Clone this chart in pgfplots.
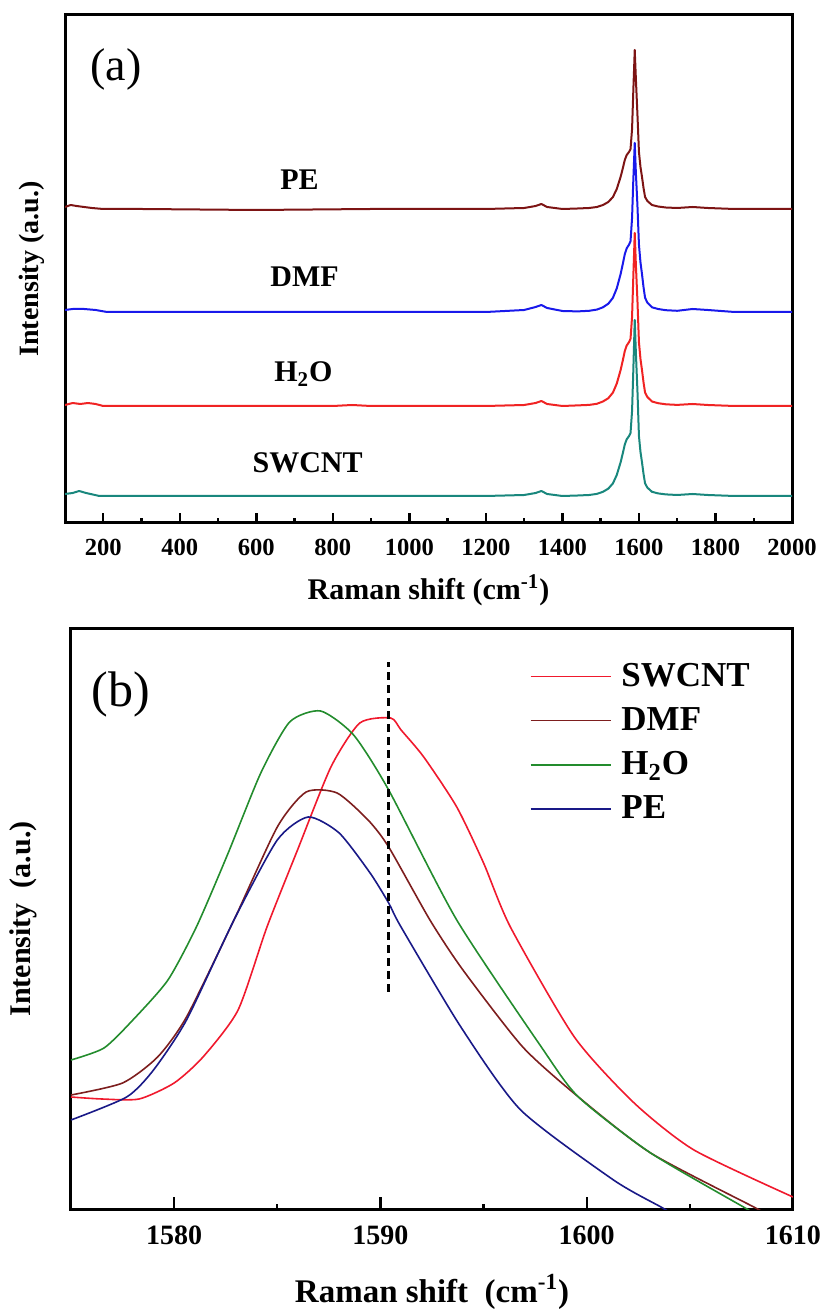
\documentclass[border=0pt]{standalone}
\usepackage{fontspec}
\setmainfont{Liberation Serif}
\usepackage{pgfplots}
\pgfplotsset{compat=1.18}

\definecolor{peA}{RGB}{125,20,20}
\definecolor{dmfA}{RGB}{25,25,235}
\definecolor{hA}{RGB}{240,35,35}
\definecolor{swA}{RGB}{25,135,125}
\definecolor{swB}{RGB}{240,25,45}
\definecolor{dmfB}{RGB}{125,30,30}
\definecolor{hB}{RGB}{35,140,45}
\definecolor{peB}{RGB}{25,25,135}

\pgfplotsset{
  common/.style={
    scale only axis,
    axis line style={line width=1.5pt},
    ytick=\empty, xtick pos=bottom,
    tick align=inside, minor x tick num=1,
    tick style={line width=1.2pt, black},
    minor tick length=2.5pt,
    /pgf/number format/assume math mode=true,
    /pgf/number format/set thousands separator={},
    every axis plot/.append style={line join=round},
    ylabel style={anchor=center},
    xlabel style={anchor=center},
  }
}

\begin{document}
\begin{tikzpicture}
\path[use as bounding box] (0,0) rectangle (413.5pt,656.5pt);

% (a) full spectra
\begin{axis}[common,
  at={(32.5pt,395pt)}, anchor=south west,
  width=363.5pt, height=254pt,
  xmin=100, xmax=2000, ymin=0, ymax=508,
  xtick={200,400,...,2000}, major tick length=5pt,
  xticklabel style={font=\fontsize{12.3}{14}\selectfont\bfseries, anchor=center, yshift=-12pt},
  xlabel={Raman shift (cm\textsuperscript{-1})},
  xlabel style={font=\fontsize{15}{18}\selectfont\bfseries, at={(axis description cs:0.5,-0.132)}},
  ylabel={Intensity (a.u.)},
  ylabel style={font=\fontsize{14}{17}\selectfont\bfseries, at={(axis description cs:-0.045,0.5)}},
]
\addplot[color=peA, line width=1pt] coordinates {
(100,316) (115,318) (130,317) (150,316) (170,315) (200,314) (300,314) (600,313) (900,314) (1200,314)
(1300,315) (1330,317) (1345,319) (1360,316) (1400,314) (1440,314.5) (1470,315) (1490,316)
(1506,318) (1520,321) (1532,326) (1542,334) (1552,346) (1558,355) (1563,363) (1568,368) (1574,371)
(1578,374) (1582,394) (1585,429) (1589,473) (1592,444) (1596,409) (1600,371) (1604,356) (1608,346)
(1612,335) (1616,326) (1622,322) (1634,318) (1650,316.5) (1670,315.5) (1700,315)
(1740,316) (1780,315) (1850,314) (2000,314)};
\addplot[color=dmfA, line width=1pt] coordinates {
(100,213) (120,214) (150,214) (180,213) (210,211) (400,211) (800,211) (1200,211)
(1300,213) (1330,216) (1345,218) (1360,215) (1400,212) (1440,211.6) (1470,212.2) (1490,213.4)
(1506,215.7) (1520,219.3) (1532,225.2) (1542,234.6) (1552,248.8) (1558,259.4) (1563,268.8) (1568,274.7)
(1574,278.3) (1578,281.8) (1582,305) (1585,340) (1589,380) (1592,350) (1596,318) (1600,278.3)
(1604,260.6) (1608,248.8) (1612,235.8) (1616,225.2) (1622,220.4) (1634,215.7) (1650,214) (1670,212.8)
(1700,212.2) (1740,214) (1780,213) (1850,211) (2000,211)};
\addplot[color=hA, line width=1pt] coordinates {
(100,118) (120,120) (140,119) (160,120) (180,119) (200,117) (400,117) (800,117) (850,118) (900,117) (1200,117)
(1300,118) (1330,120) (1345,122) (1360,119) (1400,117) (1440,117.6) (1470,118.1) (1490,119.2)
(1506,121.5) (1520,124.8) (1532,130.4) (1542,139.4) (1552,152.8) (1558,162.9) (1563,171.9) (1568,177.5)
(1574,180.8) (1578,184.2) (1582,206) (1585,243) (1589,290) (1592,258) (1596,223) (1600,180.8)
(1604,164) (1608,152.8) (1612,140.5) (1616,130.4) (1622,126) (1634,121.5) (1650,119.8) (1670,118.7)
(1700,118.1) (1740,119) (1780,118) (1850,117) (2000,117)};
\addplot[color=swA, line width=1pt] coordinates {
(100,29) (120,30) (137,32) (155,30) (190,27) (400,27) (800,27) (1200,27)
(1300,28) (1330,30) (1345,32) (1360,29) (1400,27) (1440,27.5) (1470,28) (1490,29.1)
(1506,31.2) (1520,34.4) (1532,39.6) (1542,48) (1552,60.6) (1558,70) (1563,78.5) (1568,83.7)
(1574,86.9) (1578,90) (1582,112) (1585,149) (1589,203) (1592,170) (1596,133) (1600,86.9)
(1604,71.1) (1608,60.6) (1612,49) (1616,39.6) (1622,35.4) (1634,31.2) (1650,29.6) (1670,28.6)
(1700,28) (1740,29) (1780,28) (1850,27) (2000,27)};
\node[font=\fontsize{15}{18}\selectfont\bfseries, anchor=base] at (axis cs:713,333) {PE};
\node[font=\fontsize{15}{18}\selectfont\bfseries, anchor=base] at (axis cs:726,236) {DMF};
\node[font=\fontsize{15}{18}\selectfont\bfseries, anchor=base] at (axis cs:723,141) {H\textsubscript{2}O};
\node[font=\fontsize{15}{18}\selectfont\bfseries, anchor=base] at (axis cs:734,50) {SWCNT};
\node[font=\fontsize{23}{27}\selectfont] at (axis description cs:0.07,0.892) {(a)};
\end{axis}

% (b) G band detail
\begin{axis}[common,
  at={(35.5pt,52pt)}, anchor=south west,
  width=361pt, height=290pt,
  xmin=1575, xmax=1610, ymin=0, ymax=580,
  xtick={1580,1590,1600,1610}, major tick length=6pt,
  xticklabel style={font=\fontsize{14}{17}\selectfont\bfseries, anchor=center, yshift=-13pt},
  xlabel={Raman shift\ \ (cm\textsuperscript{-1})},
  xlabel style={font=\fontsize{16.5}{20}\selectfont\bfseries, at={(axis description cs:0.5,-0.143)}},
  ylabel={Intensity\ \ (a.u.)},
  ylabel style={font=\fontsize{15}{18}\selectfont\bfseries, at={(axis description cs:-0.066,0.5)}},
  legend style={draw=none, fill=none, at={(axis description cs:0.635,0.948)}, anchor=north west,
    font=\fontsize{17.5}{20}\selectfont\bfseries, row sep=5pt, column sep=3pt, inner sep=0pt,
    nodes={inner sep=2pt}},
  legend cell align=left,
  legend image code/.code={\draw[#1] (0pt,0pt) -- (40pt,0pt);},
]
\addplot[color=swB, line width=0.8pt, smooth, tension=0.4] coordinates {
(1575,112) (1576.5,110) (1578.3,110) (1580,126) (1581.4,152) (1583.1,199) (1584.5,282) (1586,360)
(1587.6,442) (1589,486) (1590.5,491) (1591,479) (1592.1,452) (1593.7,402) (1595,346) (1596.3,282)
(1599.4,172) (1602.3,106) (1605.2,59) (1610,12)};
\addlegendentry{SWCNT}
\addplot[color=dmfB, line width=0.8pt, smooth, tension=0.4] coordinates {
(1575,114) (1577.5,126) (1579.2,152) (1580.6,192) (1582.9,289) (1585,382) (1586.4,417) (1587.9,416)
(1589.4,389) (1590.4,362) (1592.4,289) (1594,239) (1596.9,162) (1599.6,112) (1603.1,56) (1608.1,2) (1608.5,-3)};
\addlegendentry{DMF}
\addplot[color=hB, line width=0.8pt, smooth, tension=0.4] coordinates {
(1575,149) (1576.6,161) (1578,189) (1579.7,229) (1581.1,283) (1582.6,355) (1584.2,436) (1585.6,487)
(1587.1,498) (1588.7,474) (1590.4,419) (1593.7,289) (1597.8,162) (1599.6,112) (1603.1,56) (1607.6,2) (1608,-3)};
\addlegendentry{H\textsubscript{2}O}
\addplot[color=peB, line width=0.8pt, smooth, tension=0.4] coordinates {
(1575,89) (1577.7,112) (1579,139) (1580.6,189) (1582.9,289) (1585,369) (1586.5,392) (1588,376)
(1589.5,336) (1590.4,306) (1591,282) (1593.9,182) (1596.8,99) (1601.3,29) (1603.6,2) (1604,-3)};
\addlegendentry{PE}
\addplot[black, line width=1.5pt, dash pattern=on 4pt off 2.5pt, forget plot] coordinates {(1590.4,217) (1590.4,547)};
\node[font=\fontsize{25}{30}\selectfont] at (axis description cs:0.069,0.887) {(b)};
\end{axis}
\end{tikzpicture}
\end{document}
